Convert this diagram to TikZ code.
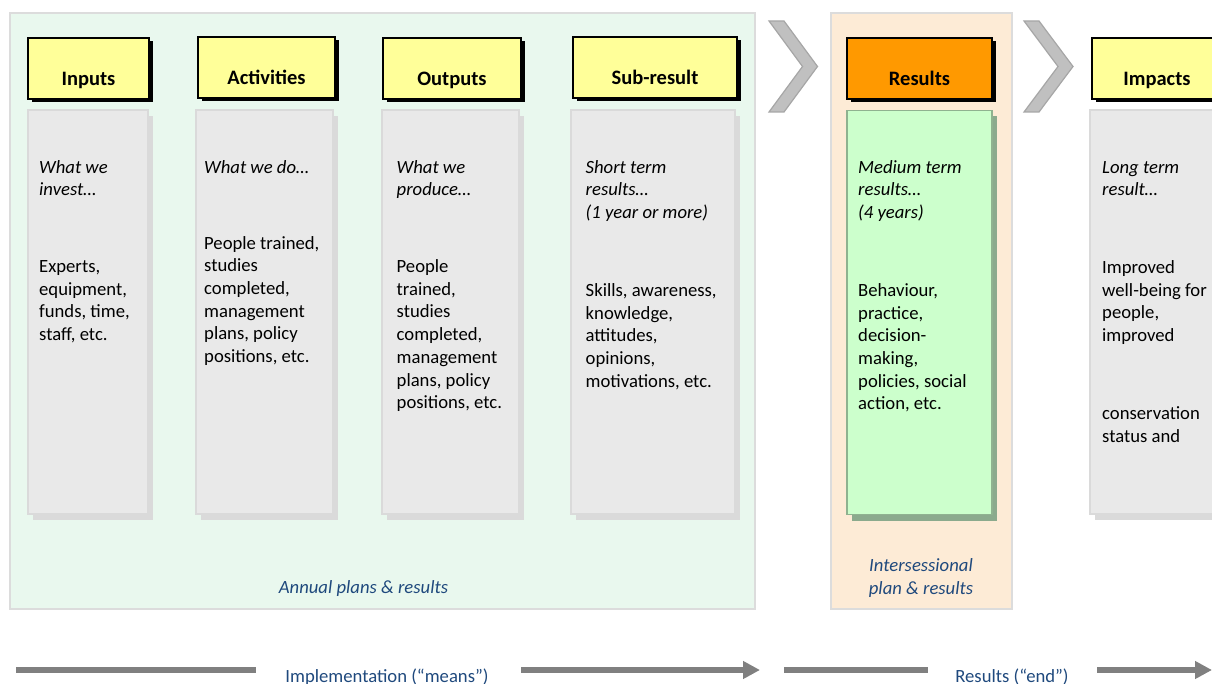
\documentclass[tikz,border=0pt]{standalone}
\usepackage{fontspec}
\setmainfont{Carlito}
\usetikzlibrary{shadows,arrows.meta}

\definecolor{hdrYellow}{HTML}{FFFF99}
\definecolor{hdrOrange}{HTML}{FF9900}
\definecolor{bodyGray}{HTML}{E9E9E9}
\definecolor{bodyEdge}{HTML}{DADADA}
\definecolor{bodyGreen}{HTML}{CCFFCC}
\definecolor{greenEdge}{HTML}{8FB290}
\definecolor{greenShade}{HTML}{8BAA8D}
\definecolor{zoneGreen}{HTML}{E9F8EE}
\definecolor{zoneOrange}{HTML}{FDEBD6}
\definecolor{zoneEdge}{HTML}{DCDCDC}
\definecolor{captionBlue}{HTML}{1F497D}
\definecolor{chevFill}{HTML}{C0C0C0}
\definecolor{chevEdge}{HTML}{A6A6A6}
\definecolor{flowGray}{HTML}{808080}

\begin{document}
\begin{tikzpicture}[x=1pt,y=-1pt,
  zone/.style={draw=zoneEdge, line width=2pt},
  chevron/.style={fill=chevFill, draw=chevEdge, line width=1.2pt, line join=miter},
  hdrbox/.style={draw=black, line width=2pt, fill=hdrYellow, inner sep=0pt, outer sep=0pt,
    minimum height=61pt, text height=35pt, text depth=0pt,
    font=\fontsize{20.5}{24}\selectfont\bfseries,
    drop shadow={shadow xshift=3.5pt, shadow yshift=-3.5pt, fill=black, opacity=1}},
  bodybox/.style={draw=bodyEdge, line width=1.5pt, fill=bodyGray, inner sep=0pt, outer sep=0pt,
    minimum height=404pt,
    drop shadow={shadow xshift=5pt, shadow yshift=-6pt, fill=bodyEdge, opacity=1}},
  greenbody/.style={bodybox, draw=greenEdge, fill=bodyGreen,
    drop shadow={shadow xshift=5pt, shadow yshift=-6pt, fill=greenShade, opacity=1}},
  bodytext/.style={anchor=north west, inner sep=0pt, align=left,
    font=\fontsize{18.67}{22.7}\selectfont},
  itext/.style={bodytext, font=\fontsize{18.67}{22.7}\selectfont\itshape},
  captext/.style={inner sep=0pt, text=captionBlue, align=center,
    font=\fontsize{18.67}{22.7}\selectfont\itshape},
  flowtext/.style={inner sep=0pt, anchor=base, text=captionBlue,
    font=\fontsize{18.67}{22.7}\selectfont},
  flow/.style={draw=flowGray, line width=5.5pt},
  flowarrow/.style={flow, -{Triangle[length=17pt,width=17pt]}}
]
\useasboundingbox (0,0) rectangle (1212,684);

% background zones
\draw[zone, fill=zoneGreen] (10,13) rectangle (755,609);
\draw[zone, fill=zoneOrange] (831,13) rectangle (1012,609);

% chevrons between the zones
\draw[chevron] (769,21) -- (784,21) -- (817.5,66.5) -- (784,112) -- (769,112) -- (802.5,66.5) -- cycle;
\draw[chevron] (1024,21) -- (1039,21) -- (1073,66.5) -- (1039,112) -- (1024,112) -- (1058,66.5) -- cycle;

% column bodies
\node[bodybox, minimum width=120pt] (bIn)  at (88,312) {};
\node[bodybox, minimum width=137pt] (bAct) at (264.5,312) {};
\node[bodybox, minimum width=137pt] (bOut) at (450.5,312) {};
\node[bodybox, minimum width=164pt] (bSub) at (653,312) {};
\node[greenbody, minimum width=145pt] (bRes) at (919.5,312.5) {};
\node[bodybox, minimum width=132pt] (bImp) at (1156,312) {};

% column headers
\node[hdrbox, minimum width=121pt] (hIn)  at (88.5,68.5) {Inputs};
\node[hdrbox, minimum width=137pt] (hAct) at (266.5,67.5) {Activities};
\node[hdrbox, minimum width=138pt] (hOut) at (452,68.5) {Outputs};
\node[hdrbox, minimum width=164pt] (hSub) at (655,67.5) {Sub-result};
\node[hdrbox, minimum width=145pt, fill=hdrOrange] (hRes) at (919.5,68.5) {Results};
\node[hdrbox, minimum width=130pt] (hImp) at (1157,68.5) {Impacts};

% body texts
\node[itext] (qIn) at (39,157) {\strut What we\\invest…};
\node[bodytext] (tIn) at (39,256.5) {\strut Experts,\\equipment,\\funds, time,\\staff, etc.};

\node[itext] (qAct) at (204,157) {\strut What we do…};
\node[bodytext] (tAct) at (204,233) {\strut People trained,\\studies\\completed,\\management\\plans, policy\\positions, etc.};

\node[itext] (qOut) at (396.5,157) {\strut What we\\produce…};
\node[bodytext] (tOut) at (396.5,256.5) {\strut People\\trained,\\studies\\completed,\\management\\plans, policy\\positions, etc.};

\node[itext] (qSub) at (585.5,157) {\strut Short term\\results…\\(1 year or more)};
\node[bodytext] (tSub) at (585.5,280.3) {\strut Skills, awareness,\\knowledge,\\attitudes,\\opinions,\\motivations, etc.};

\node[itext] (qRes) at (858,157) {\strut Medium term\\results…\\(4 years)};
\node[bodytext] (tRes) at (858,280.3) {\strut Behaviour,\\practice,\\decision-\\making,\\policies, social\\action, etc.};

\node[itext] (qImp) at (1102,157) {\strut Long term\\result…};
\node[bodytext] (tImp) at (1102,257.5) {\strut Improved\\well-being for\\people,\\improved};
\node[bodytext] (tImp2) at (1102,403.3) {\strut conservation\\status and};

% zone captions
\node[captext, anchor=base] (capAnnual) at (363.5,593) {Annual plans \& results};
\node[captext, anchor=north] (capInter) at (921,555.5) {\strut Intersessional\\plan \& results};

% means / end flow along the bottom
\coordinate (m0) at (16,670);
\coordinate (m1) at (256,670);
\coordinate (m2) at (521,670);
\coordinate (m3) at (760,670);
\coordinate (e0) at (784,670);
\coordinate (e1) at (928,670);
\coordinate (e2) at (1097,670);
\coordinate (e3) at (1212,670);
\draw[flow] (m0) -- (m1);
\draw[flowarrow] (m2) -- (m3);
\draw[flow] (e0) -- (e1);
\draw[flowarrow] (e2) -- (e3);
\node[flowtext] (means) at (387,682.5) {Implementation (“means”)};
\node[flowtext] (ends) at (1012,682.5) {Results (“end”)};
\end{tikzpicture}
\end{document}
